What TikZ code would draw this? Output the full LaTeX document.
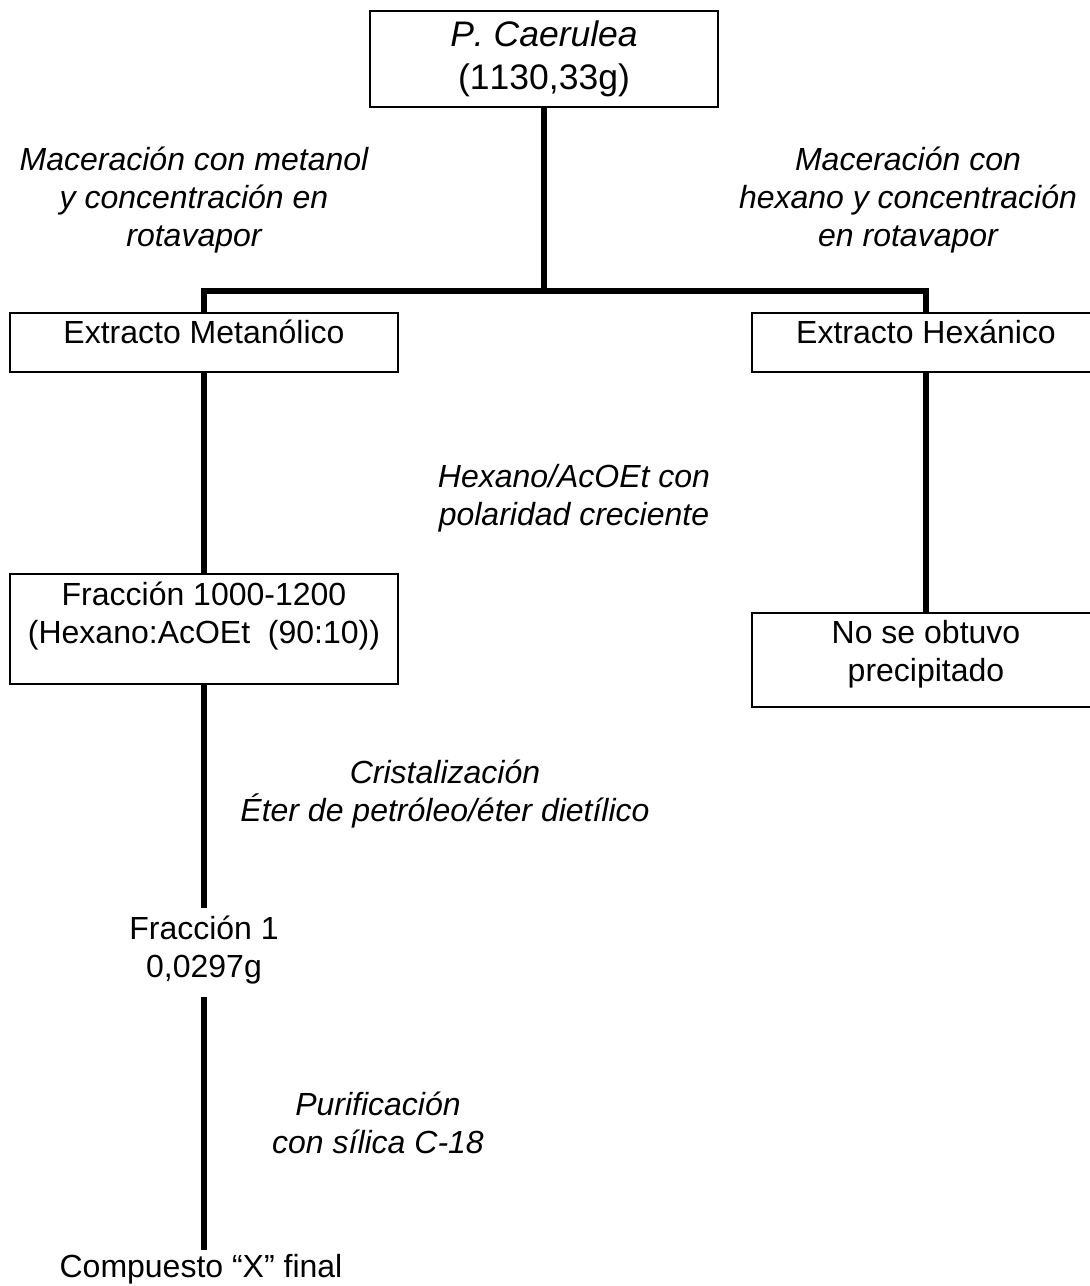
\documentclass[tikz,border=0pt]{standalone}
\usepackage{fontspec}
\setmainfont{Liberation Sans}[Kerning=Off]
\usepackage{tikz}

\begin{document}
\begin{tikzpicture}[x=1pt, y=1pt, node distance=0pt,
box/.style={draw=black, line width=1.8pt, fill=white, inner sep=0pt, align=center, font=\fontsize{32}{38}\selectfont},
txt/.style={inner sep=0pt, align=center, font=\fontsize{32}{38}\selectfont},
lbl/.style={inner sep=0pt, align=center, anchor=base, font=\fontsize{32}{38}\selectfont\itshape},
flow/.style={line width=5.5pt}
]
\useasboundingbox (0,0) rectangle (1090,-1286);
%Nodes
\node[box, minimum width=348pt, text height=78pt, text depth=18pt, font=\fontsize{35.5}{43}\selectfont] (caerulea) at (544,-59) {\textit{P. Caerulea}\\(1130,33g)};
\node[box, minimum width=388pt, text height=30pt, text depth=29pt] (metanolico) [below of=caerulea, xshift=-340pt, yshift=-283.5pt] {Extracto Metanólico};
\node[box, minimum width=348pt, text height=30pt, text depth=29pt] (hexanico)   [right of=metanolico, xshift=722pt] {Extracto Hexánico};
\node[box, minimum width=388pt, text height=69pt, text depth=41pt] (fraccion)   [below of=metanolico, yshift=-286.5pt] {Fracción 1000-1200\\(Hexano:AcOEt~ (90:10))};
\node[box, minimum width=348pt, text height=68pt, text depth=26pt] (noprec)     [below of=hexanico, yshift=-317.5pt] {No se obtuvo\\precipitado};
\node[txt, text height=69pt, text depth=20pt] (fraccion1) [below of=fraccion, yshift=-323.5pt] {Fracción 1\\0,0297g};
\node[txt, text height=27pt, text depth=9pt]  (compuesto) [below of=fraccion1, xshift=-3pt, yshift=-315.5pt] {Compuesto “X” final};
\coordinate (split) at (544,-291);
%Labels
\node[lbl] (lblmet)   at (194,-246)  {Maceración con metanol\\y concentración en\\rotavapor};
\node[lbl] (lblhex)   at (908,-246)  {Maceración con\\hexano y concentración\\en rotavapor};
\node[lbl] (lblcol)   at (574,-525)  {Hexano/AcOEt con\\polaridad creciente};
\node[lbl] (lblcrist) at (445,-821)  {Cristalización\\Éter de petróleo/éter dietílico};
\node[lbl] (lblpur)   at (378,-1153) {Purificación\\con sílica C-18};
%Lines
\draw[flow] (caerulea) -- (split);
\draw[flow] (metanolico) |- (split) -| (hexanico);
\draw[flow] (metanolico) -- (fraccion);
\draw[flow] (hexanico) -- (noprec);
\draw[flow] (fraccion) -- (fraccion1);
\draw[flow] (fraccion1) -- (fraccion1 |- compuesto.north);
\end{tikzpicture}
\end{document}
